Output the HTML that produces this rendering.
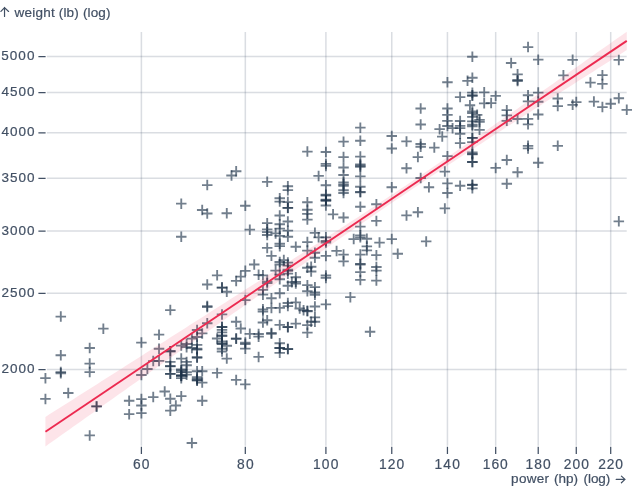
<!DOCTYPE html>
<html><head><meta charset="utf-8"><style>
html,body{margin:0;padding:0;background:#fff;overflow:hidden;}
svg{display:block;font-family:"Liberation Sans",sans-serif;will-change:transform;}
</style></head><body>
<svg width="640" height="503" viewBox="0 0 640 503">
<rect width="640" height="503" fill="#fff"/>
<path d="M141.40,32V445.7M245.31,32V445.7M325.91,32V445.7M391.76,32V445.7M447.44,32V445.7M495.68,32V445.7M538.22,32V445.7M576.27,32V445.7M610.70,32V445.7" stroke="#3a4d66" stroke-opacity="0.19" stroke-width="1.5" fill="none"/>
<path d="M46.9,369.50H626.7M46.9,293.28H626.7M46.9,231.01H626.7M46.9,178.36H626.7M46.9,132.75H626.7M46.9,92.53H626.7M46.9,56.54H626.7" stroke="#3a4d66" stroke-opacity="0.19" stroke-width="1.5" fill="none"/>
<path d="M141.40,446.7V454M245.31,446.7V454M325.91,446.7V454M391.76,446.7V454M447.44,446.7V454M495.68,446.7V454M538.22,446.7V454M576.27,446.7V454M610.70,446.7V454M38.4,369.50H45.6M38.4,293.28H45.6M38.4,231.01H45.6M38.4,178.36H45.6M38.4,132.75H45.6M38.4,92.53H45.6M38.4,56.54H45.6" stroke="#425064" stroke-width="1.25" fill="none"/>
<g fill="#425064" stroke="#425064" stroke-width="0.2"><text x="133.06" y="468.75" font-size="13.8" letter-spacing="1.150">60</text><text x="236.96" y="468.75" font-size="13.8" letter-spacing="1.249">80</text><text x="313.02" y="468.75" font-size="13.8" letter-spacing="1.180">100</text><text x="378.93" y="468.75" font-size="13.8" letter-spacing="1.071">120</text><text x="434.44" y="468.75" font-size="13.8" letter-spacing="1.262">140</text><text x="482.81" y="468.75" font-size="13.8" letter-spacing="0.978">160</text><text x="525.40" y="468.75" font-size="13.8" letter-spacing="1.161">180</text><text x="563.69" y="468.75" font-size="13.8" letter-spacing="1.071">200</text><text x="598.23" y="468.75" font-size="13.8" letter-spacing="0.792">220</text><text x="1.44" y="373.00" font-size="13.5" letter-spacing="0.993">2000</text><text x="1.44" y="296.78" font-size="13.5" letter-spacing="0.993">2500</text><text x="1.42" y="234.51" font-size="13.5" letter-spacing="0.997">3000</text><text x="1.42" y="181.86" font-size="13.5" letter-spacing="0.997">3500</text><text x="1.60" y="136.25" font-size="13.5" letter-spacing="0.939">4000</text><text x="1.60" y="96.03" font-size="13.5" letter-spacing="0.939">4500</text><text x="1.28" y="60.04" font-size="13.5" letter-spacing="1.046">5000</text><text x="14.38" y="17.10" font-size="13.5" letter-spacing="0.253">weight</text><text x="58.83" y="17.10" font-size="13.5" letter-spacing="0.143">(lb)</text><text x="82.94" y="17.10" font-size="13.5" letter-spacing="0.114">(log)</text><text x="511.09" y="483.30" font-size="13.5" letter-spacing="0.309">power</text><text x="553.94" y="483.30" font-size="13.5" letter-spacing="-0.012">(hp)</text><text x="583.53" y="483.30" font-size="13.5" letter-spacing="-0.056">(log)</text></g>
<path d="M4.53,16.5V7.4M0.95,11.45L4.53,7.6L8.59,11.45M616.2,479.4H625M621.4,476.1L625,479.4L621.4,482.8" stroke="#425064" stroke-width="1.2" fill="none" stroke-linecap="round" stroke-linejoin="round"/>
<g stroke="#1c3047" stroke-opacity="0.62" stroke-width="1.85" fill="none"><path d="M415.43,177.97h10.5M420.68,172.72v10.5"/><path d="M501.54,160.03h10.5M506.79,154.78v10.5"/><path d="M467.11,184.67h10.5M472.36,179.42v10.5"/><path d="M467.11,184.96h10.5M472.36,179.71v10.5"/><path d="M442.19,183.38h10.5M447.44,178.13v10.5"/><path d="M567.39,104.81h10.5M572.64,99.56v10.5"/><path d="M605.45,103.79h10.5M610.70,98.54v10.5"/><path d="M597.15,107.10h10.5M602.40,101.85v10.5"/><path d="M613.57,98.27h10.5M618.82,93.02v10.5"/><path d="M552.50,145.81h10.5M557.75,140.56v10.5"/><path d="M371.14,220.92h10.5M376.39,215.67v10.5"/><path d="M501.54,120.84h10.5M506.79,115.59v10.5"/><path d="M474.27,129.86h10.5M479.52,124.61v10.5"/><path d="M522.79,118.87h10.5M528.04,113.62v10.5"/><path d="M522.79,145.81h10.5M528.04,140.56v10.5"/><path d="M512.32,172.27h10.5M517.57,167.02v10.5"/><path d="M490.43,167.89h10.5M495.68,162.64v10.5"/><path d="M442.19,193.02h10.5M447.44,187.77v10.5"/><path d="M467.11,153.80h10.5M472.36,148.55v10.5"/><path d="M613.57,221.36h10.5M618.82,216.11v10.5"/><path d="M302.13,311.24h10.5M307.38,305.99v10.5"/><path d="M302.13,250.58h10.5M307.38,245.33v10.5"/><path d="M309.66,257.76h10.5M314.91,252.51v10.5"/><path d="M261.96,281.60h10.5M267.21,276.35v10.5"/><path d="M274.49,347.99h10.5M279.74,342.74v10.5"/><path d="M40.18,398.91h10.5M45.43,393.66v10.5"/><path d="M270.36,270.56h10.5M275.61,265.31v10.5"/><path d="M282.60,302.98h10.5M287.85,297.73v10.5"/><path d="M302.13,310.80h10.5M307.38,305.55v10.5"/><path d="M364.81,331.71h10.5M370.06,326.46v10.5"/><path d="M282.60,273.64h10.5M287.85,268.39v10.5"/><path d="M597.15,83.91h10.5M602.40,78.66v10.5"/><path d="M571.02,102.07h10.5M576.27,96.82v10.5"/><path d="M588.65,101.60h10.5M593.90,96.35v10.5"/><path d="M558.16,75.36h10.5M563.41,70.11v10.5"/><path d="M274.49,347.99h10.5M279.74,342.74v10.5"/><path d="M282.60,327.15h10.5M287.85,321.90v10.5"/><path d="M302.13,332.63h10.5M307.38,327.38v10.5"/><path d="M55.55,373.28h10.5M60.80,368.03v10.5"/><path d="M320.66,275.45h10.5M325.91,270.20v10.5"/><path d="M338.28,184.37h10.5M343.53,179.12v10.5"/><path d="M320.66,195.47h10.5M325.91,190.22v10.5"/><path d="M274.49,198.25h10.5M279.74,193.00v10.5"/><path d="M320.66,199.70h10.5M325.91,194.45v10.5"/><path d="M501.54,115.36h10.5M506.79,110.11v10.5"/><path d="M522.79,95.27h10.5M528.04,90.02v10.5"/><path d="M474.27,119.85h10.5M479.52,114.60v10.5"/><path d="M467.11,124.65h10.5M472.36,119.40v10.5"/><path d="M532.97,59.63h10.5M538.22,54.38v10.5"/><path d="M512.32,74.35h10.5M517.57,69.10v10.5"/><path d="M522.79,47.11h10.5M528.04,41.86v10.5"/><path d="M355.09,235.37h10.5M360.34,230.12v10.5"/><path d="M202.00,306.09h10.5M207.25,300.84v10.5"/><path d="M320.66,200.33h10.5M325.91,195.08v10.5"/><path d="M274.49,215.54h10.5M279.74,210.29v10.5"/><path d="M266.18,333.85h10.5M271.43,328.60v10.5"/><path d="M282.60,349.11h10.5M287.85,343.86v10.5"/><path d="M191.83,357.09h10.5M197.08,351.84v10.5"/><path d="M221.53,358.58h10.5M226.78,353.33v10.5"/><path d="M165.06,410.65h10.5M170.31,405.40v10.5"/><path d="M186.63,442.95h10.5M191.88,437.70v10.5"/><path d="M136.15,399.09h10.5M141.40,393.84v10.5"/><path d="M191.83,377.27h10.5M197.08,372.02v10.5"/><path d="M302.13,325.05h10.5M307.38,319.80v10.5"/><path d="M240.06,348.63h10.5M245.31,343.38v10.5"/><path d="M98.09,328.66h10.5M103.34,323.41v10.5"/><path d="M282.60,306.09h10.5M287.85,300.84v10.5"/><path d="M266.18,332.93h10.5M271.43,327.68v10.5"/><path d="M501.54,110.13h10.5M506.79,104.88v10.5"/><path d="M522.79,101.37h10.5M528.04,96.12v10.5"/><path d="M467.11,121.42h10.5M472.36,116.17v10.5"/><path d="M474.27,121.91h10.5M479.52,116.66v10.5"/><path d="M467.11,161.98h10.5M472.36,156.73v10.5"/><path d="M585.19,82.58h10.5M590.44,77.33v10.5"/><path d="M478.96,92.37h10.5M484.21,87.12v10.5"/><path d="M490.43,95.88h10.5M495.68,90.63v10.5"/><path d="M552.50,98.50h10.5M557.75,93.25v10.5"/><path d="M309.66,317.34h10.5M314.91,312.09v10.5"/><path d="M467.11,142.10h10.5M472.36,136.85v10.5"/><path d="M415.43,124.49h10.5M420.68,119.24v10.5"/><path d="M442.19,108.53h10.5M447.44,103.28v10.5"/><path d="M467.11,126.24h10.5M472.36,120.99v10.5"/><path d="M361.59,238.73h10.5M366.84,233.48v10.5"/><path d="M221.53,291.78h10.5M226.78,286.53v10.5"/><path d="M270.36,233.41h10.5M275.61,228.16v10.5"/><path d="M186.63,338.66h10.5M191.88,333.41v10.5"/><path d="M266.18,307.94h10.5M271.43,302.69v10.5"/><path d="M290.54,323.55h10.5M295.79,318.30v10.5"/><path d="M309.66,292.47h10.5M314.91,287.22v10.5"/><path d="M240.06,342.58h10.5M245.31,337.33v10.5"/><path d="M274.49,352.83h10.5M279.74,347.58v10.5"/><path d="M522.79,124.32h10.5M528.04,119.07v10.5"/><path d="M467.11,161.98h10.5M472.36,156.73v10.5"/><path d="M454.87,133.78h10.5M460.12,128.53v10.5"/><path d="M434.37,129.19h10.5M439.62,123.94v10.5"/><path d="M467.11,152.35h10.5M472.36,147.10v10.5"/><path d="M567.39,59.83h10.5M572.64,54.58v10.5"/><path d="M467.11,95.27h10.5M472.36,90.02v10.5"/><path d="M485.88,103.09h10.5M491.13,97.84v10.5"/><path d="M467.11,113.09h10.5M472.36,107.84v10.5"/><path d="M597.15,75.14h10.5M602.40,69.89v10.5"/><path d="M613.57,59.90h10.5M618.82,54.65v10.5"/><path d="M522.79,148.39h10.5M528.04,143.14v10.5"/><path d="M338.28,217.51h10.5M343.53,212.26v10.5"/><path d="M320.66,200.74h10.5M325.91,195.49v10.5"/><path d="M320.66,237.33h10.5M325.91,232.08v10.5"/><path d="M274.49,228.63h10.5M279.74,223.38v10.5"/><path d="M302.13,242.12h10.5M307.38,236.87v10.5"/><path d="M40.18,378.15h10.5M45.43,372.90v10.5"/><path d="M467.11,56.74h10.5M472.36,51.49v10.5"/><path d="M505.89,63.02h10.5M511.14,57.77v10.5"/><path d="M512.32,81.03h10.5M517.57,75.78v10.5"/><path d="M532.97,92.60h10.5M538.22,87.35v10.5"/><path d="M320.66,255.92h10.5M325.91,250.67v10.5"/><path d="M274.49,324.90h10.5M279.74,319.65v10.5"/><path d="M202.00,307.08h10.5M207.25,301.83v10.5"/><path d="M298.31,310.23h10.5M303.56,304.98v10.5"/><path d="M282.60,348.95h10.5M287.85,343.70v10.5"/><path d="M261.96,320.28h10.5M267.21,315.03v10.5"/><path d="M345.10,297.13h10.5M350.35,291.88v10.5"/><path d="M282.60,327.00h10.5M287.85,321.75v10.5"/><path d="M454.87,125.82h10.5M460.12,120.57v10.5"/><path d="M621.51,109.81h10.5M626.76,104.56v10.5"/><path d="M63.00,393.00h10.5M68.25,387.75v10.5"/><path d="M216.75,343.53h10.5M222.00,338.28v10.5"/><path d="M286.60,282.26h10.5M291.85,277.01v10.5"/><path d="M361.59,246.38h10.5M366.84,241.13v10.5"/><path d="M467.11,188.36h10.5M472.36,183.11v10.5"/><path d="M355.09,272.10h10.5M360.34,266.85v10.5"/><path d="M392.49,253.72h10.5M397.74,248.47v10.5"/><path d="M532.97,162.72h10.5M538.22,157.47v10.5"/><path d="M302.13,219.59h10.5M307.38,214.34v10.5"/><path d="M320.66,242.47h10.5M325.91,237.22v10.5"/><path d="M320.66,194.75h10.5M325.91,189.50v10.5"/><path d="M176.01,378.15h10.5M181.26,372.90v10.5"/><path d="M240.06,300.05h10.5M245.31,294.80v10.5"/><path d="M165.06,398.72h10.5M170.31,393.47v10.5"/><path d="M216.75,287.59h10.5M222.00,282.34v10.5"/><path d="M320.66,151.99h10.5M325.91,146.74v10.5"/><path d="M355.09,165.72h10.5M360.34,160.47v10.5"/><path d="M338.28,167.51h10.5M343.53,162.26v10.5"/><path d="M442.19,120.92h10.5M447.44,115.67v10.5"/><path d="M467.11,77.75h10.5M472.36,72.50v10.5"/><path d="M467.11,95.81h10.5M472.36,90.56v10.5"/><path d="M442.19,82.21h10.5M447.44,76.96v10.5"/><path d="M467.11,111.49h10.5M472.36,106.24v10.5"/><path d="M253.36,334.01h10.5M258.61,328.76v10.5"/><path d="M176.01,375.88h10.5M181.26,370.63v10.5"/><path d="M230.92,321.76h10.5M236.17,316.51v10.5"/><path d="M84.46,435.41h10.5M89.71,430.16v10.5"/><path d="M142.12,368.99h10.5M147.37,363.74v10.5"/><path d="M216.75,348.79h10.5M222.00,343.54v10.5"/><path d="M216.75,351.54h10.5M222.00,346.29v10.5"/><path d="M216.75,329.88h10.5M222.00,324.63v10.5"/><path d="M309.66,294.79h10.5M314.91,289.54v10.5"/><path d="M294.45,308.51h10.5M299.70,303.26v10.5"/><path d="M176.01,369.50h10.5M181.26,364.25v10.5"/><path d="M302.13,202.21h10.5M307.38,196.96v10.5"/><path d="M338.28,182.39h10.5M343.53,177.14v10.5"/><path d="M202.00,185.06h10.5M207.25,179.81v10.5"/><path d="M202.00,213.48h10.5M207.25,208.23v10.5"/><path d="M512.32,80.01h10.5M517.57,74.76v10.5"/><path d="M454.87,97.11h10.5M460.12,91.86v10.5"/><path d="M467.11,92.68h10.5M472.36,87.43v10.5"/><path d="M462.27,80.81h10.5M467.52,75.56v10.5"/><path d="M355.09,140.79h10.5M360.34,135.54v10.5"/><path d="M338.28,141.66h10.5M343.53,136.41v10.5"/><path d="M355.09,156.62h10.5M360.34,151.37v10.5"/><path d="M302.13,151.62h10.5M307.38,146.37v10.5"/><path d="M355.09,226.60h10.5M360.34,221.35v10.5"/><path d="M355.09,206.74h10.5M360.34,201.49v10.5"/><path d="M412.64,212.29h10.5M417.89,207.04v10.5"/><path d="M216.75,341.48h10.5M222.00,336.23v10.5"/><path d="M253.36,274.80h10.5M258.61,269.55v10.5"/><path d="M320.66,240.95h10.5M325.91,235.70v10.5"/><path d="M230.92,280.94h10.5M236.17,275.69v10.5"/><path d="M305.92,266.75h10.5M311.17,261.50v10.5"/><path d="M196.95,333.39h10.5M202.20,328.14v10.5"/><path d="M309.66,287.19h10.5M314.91,281.94v10.5"/><path d="M309.66,232.84h10.5M314.91,227.59v10.5"/><path d="M191.83,380.43h10.5M197.08,375.18v10.5"/><path d="M282.60,207.80h10.5M287.85,202.55v10.5"/><path d="M302.13,267.76h10.5M307.38,262.51v10.5"/><path d="M274.49,235.94h10.5M279.74,230.69v10.5"/><path d="M313.36,237.33h10.5M318.61,232.08v10.5"/><path d="M371.14,270.69h10.5M376.39,265.44v10.5"/><path d="M91.34,406.44h10.5M96.59,401.19v10.5"/><path d="M266.18,298.24h10.5M271.43,292.99v10.5"/><path d="M244.55,333.85h10.5M249.80,328.60v10.5"/><path d="M290.54,283.59h10.5M295.79,278.34v10.5"/><path d="M235.52,328.51h10.5M240.77,323.26v10.5"/><path d="M253.36,336.64h10.5M258.61,331.39v10.5"/><path d="M442.19,114.87h10.5M447.44,109.62v10.5"/><path d="M467.11,116.90h10.5M472.36,111.65v10.5"/><path d="M386.51,136.01h10.5M391.76,130.76v10.5"/><path d="M471.90,114.87h10.5M477.15,109.62v10.5"/><path d="M320.66,205.47h10.5M325.91,200.22v10.5"/><path d="M338.28,193.02h10.5M343.53,187.77v10.5"/><path d="M244.55,229.65h10.5M249.80,224.40v10.5"/><path d="M282.60,221.47h10.5M287.85,216.22v10.5"/><path d="M84.46,363.57h10.5M89.71,358.32v10.5"/><path d="M136.15,342.58h10.5M141.40,337.33v10.5"/><path d="M191.83,380.43h10.5M197.08,375.18v10.5"/><path d="M91.34,406.44h10.5M96.59,401.19v10.5"/><path d="M320.66,163.94h10.5M325.91,158.69v10.5"/><path d="M230.92,171.22h10.5M236.17,165.97v10.5"/><path d="M355.09,164.50h10.5M360.34,159.25v10.5"/><path d="M302.13,209.72h10.5M307.38,204.47v10.5"/><path d="M196.95,400.77h10.5M202.20,395.52v10.5"/><path d="M191.83,371.21h10.5M197.08,365.96v10.5"/><path d="M216.75,344.00h10.5M222.00,338.75v10.5"/><path d="M202.00,284.52h10.5M207.25,279.27v10.5"/><path d="M327.81,214.35h10.5M333.06,209.10v10.5"/><path d="M467.11,137.92h10.5M472.36,132.67v10.5"/><path d="M274.49,201.58h10.5M279.74,196.33v10.5"/><path d="M348.46,239.08h10.5M353.71,233.83v10.5"/><path d="M386.51,148.48h10.5M391.76,143.23v10.5"/><path d="M532.97,101.76h10.5M538.22,96.51v10.5"/><path d="M454.87,128.09h10.5M460.12,122.84v10.5"/><path d="M415.43,144.04h10.5M420.68,138.79v10.5"/><path d="M467.11,154.34h10.5M472.36,149.09v10.5"/><path d="M181.36,361.90h10.5M186.61,356.65v10.5"/><path d="M240.06,344.00h10.5M245.31,338.75v10.5"/><path d="M123.90,400.77h10.5M129.15,395.52v10.5"/><path d="M305.92,321.76h10.5M311.17,316.51v10.5"/><path d="M191.83,379.02h10.5M197.08,373.77v10.5"/><path d="M454.87,143.16h10.5M460.12,137.91v10.5"/><path d="M355.09,127.67h10.5M360.34,122.42v10.5"/><path d="M454.87,121.00h10.5M460.12,115.75v10.5"/><path d="M415.43,108.45h10.5M420.68,103.20v10.5"/><path d="M355.09,176.42h10.5M360.34,171.17v10.5"/><path d="M338.28,185.76h10.5M343.53,180.51v10.5"/><path d="M320.66,165.91h10.5M325.91,160.66v10.5"/><path d="M313.36,175.93h10.5M318.61,170.68v10.5"/><path d="M532.97,114.47h10.5M538.22,109.22v10.5"/><path d="M512.32,118.95h10.5M517.57,113.70v10.5"/><path d="M552.50,106.07h10.5M557.75,100.82v10.5"/><path d="M464.70,105.28h10.5M469.95,100.03v10.5"/><path d="M230.92,379.90h10.5M236.17,374.65v10.5"/><path d="M274.49,261.98h10.5M279.74,256.73v10.5"/><path d="M216.75,327.00h10.5M222.00,321.75v10.5"/><path d="M278.57,260.11h10.5M283.82,254.86v10.5"/><path d="M153.77,360.90h10.5M159.02,355.65v10.5"/><path d="M253.36,356.93h10.5M258.61,351.68v10.5"/><path d="M176.01,372.07h10.5M181.26,366.82v10.5"/><path d="M230.92,338.50h10.5M236.17,333.25v10.5"/><path d="M309.66,252.75h10.5M314.91,247.50v10.5"/><path d="M355.09,279.89h10.5M360.34,274.64v10.5"/><path d="M355.09,264.48h10.5M360.34,259.23v10.5"/><path d="M55.55,372.07h10.5M60.80,366.82v10.5"/><path d="M170.58,405.48h10.5M175.83,400.23v10.5"/><path d="M84.46,372.07h10.5M89.71,366.82v10.5"/><path d="M191.83,357.75h10.5M197.08,352.50v10.5"/><path d="M136.15,405.48h10.5M141.40,400.23v10.5"/><path d="M355.09,191.80h10.5M360.34,186.55v10.5"/><path d="M442.19,156.17h10.5M447.44,150.92v10.5"/><path d="M439.60,171.60h10.5M444.85,166.35v10.5"/><path d="M338.28,174.96h10.5M343.53,169.71v10.5"/><path d="M302.13,213.81h10.5M307.38,208.56v10.5"/><path d="M261.96,235.02h10.5M267.21,229.77v10.5"/><path d="M274.49,264.48h10.5M279.74,259.23v10.5"/><path d="M320.66,185.26h10.5M325.91,180.01v10.5"/><path d="M282.60,207.90h10.5M287.85,202.65v10.5"/><path d="M338.28,190.28h10.5M343.53,185.03v10.5"/><path d="M261.96,223.13h10.5M267.21,217.88v10.5"/><path d="M355.09,166.85h10.5M360.34,161.60v10.5"/><path d="M386.51,187.26h10.5M391.76,182.01v10.5"/><path d="M454.87,185.76h10.5M460.12,180.51v10.5"/><path d="M501.54,183.77h10.5M506.79,178.52v10.5"/><path d="M439.60,208.44h10.5M444.85,203.19v10.5"/><path d="M442.19,125.99h10.5M447.44,120.74v10.5"/><path d="M181.36,344.00h10.5M186.61,338.75v10.5"/><path d="M302.13,285.18h10.5M307.38,279.93v10.5"/><path d="M309.66,321.76h10.5M314.91,316.51v10.5"/><path d="M216.75,332.32h10.5M222.00,327.07v10.5"/><path d="M302.13,291.24h10.5M307.38,285.99v10.5"/><path d="M338.28,261.35h10.5M343.53,256.10v10.5"/><path d="M261.96,247.93h10.5M267.21,242.68v10.5"/><path d="M309.66,306.52h10.5M314.91,301.27v10.5"/><path d="M331.34,250.94h10.5M336.59,245.69v10.5"/><path d="M401.26,215.43h10.5M406.51,210.18v10.5"/><path d="M371.14,255.19h10.5M376.39,249.94v10.5"/><path d="M423.67,187.26h10.5M428.92,182.01v10.5"/><path d="M196.95,371.21h10.5M202.20,365.96v10.5"/><path d="M181.36,347.19h10.5M186.61,341.94v10.5"/><path d="M371.14,204.20h10.5M376.39,198.95v10.5"/><path d="M261.96,232.15h10.5M267.21,226.90v10.5"/><path d="M274.49,243.77h10.5M279.74,238.52v10.5"/><path d="M282.60,202.10h10.5M287.85,196.85v10.5"/><path d="M355.09,192.31h10.5M360.34,187.06v10.5"/><path d="M415.43,146.70h10.5M420.68,141.45v10.5"/><path d="M412.64,157.08h10.5M417.89,151.83v10.5"/><path d="M437.00,136.62h10.5M442.25,131.37v10.5"/><path d="M429.06,147.59h10.5M434.31,142.34v10.5"/><path d="M478.96,103.32h10.5M484.21,98.07v10.5"/><path d="M447.32,128.17h10.5M452.57,122.92v10.5"/><path d="M401.26,168.27h10.5M406.51,163.02v10.5"/><path d="M467.11,137.92h10.5M472.36,132.67v10.5"/><path d="M196.95,382.55h10.5M202.20,377.30v10.5"/><path d="M165.06,373.80h10.5M170.31,368.55v10.5"/><path d="M240.06,384.33h10.5M245.31,379.08v10.5"/><path d="M240.06,270.81h10.5M245.31,265.56v10.5"/><path d="M226.26,175.45h10.5M231.51,170.20v10.5"/><path d="M401.26,141.40h10.5M406.51,136.15v10.5"/><path d="M196.95,210.04h10.5M202.20,204.79v10.5"/><path d="M282.60,186.26h10.5M287.85,181.01v10.5"/><path d="M191.83,336.95h10.5M197.08,331.70v10.5"/><path d="M191.83,344.80h10.5M197.08,339.55v10.5"/><path d="M165.06,366.10h10.5M170.31,360.85v10.5"/><path d="M186.63,347.99h10.5M191.88,342.74v10.5"/><path d="M282.60,270.81h10.5M287.85,265.56v10.5"/><path d="M371.14,280.55h10.5M376.39,275.30v10.5"/><path d="M371.14,267.00h10.5M376.39,261.75v10.5"/><path d="M282.60,285.72h10.5M287.85,280.47v10.5"/><path d="M221.53,345.75h10.5M226.78,340.50v10.5"/><path d="M136.15,375.01h10.5M141.40,369.76v10.5"/><path d="M191.83,349.60h10.5M197.08,344.35v10.5"/><path d="M165.06,366.27h10.5M170.31,361.02v10.5"/><path d="M282.60,269.79h10.5M287.85,264.54v10.5"/><path d="M274.49,246.14h10.5M279.74,240.89v10.5"/><path d="M282.60,230.67h10.5M287.85,225.42v10.5"/><path d="M282.60,190.18h10.5M287.85,184.93v10.5"/><path d="M230.92,338.81h10.5M236.17,333.56v10.5"/><path d="M282.60,265.61h10.5M287.85,260.36v10.5"/><path d="M216.75,287.59h10.5M222.00,282.34v10.5"/><path d="M290.54,302.42h10.5M295.79,297.17v10.5"/><path d="M216.75,327.00h10.5M222.00,321.75v10.5"/><path d="M165.06,351.21h10.5M170.31,345.96v10.5"/><path d="M338.28,254.58h10.5M343.53,249.33v10.5"/><path d="M165.06,351.21h10.5M170.31,345.96v10.5"/><path d="M55.55,355.28h10.5M60.80,350.03v10.5"/><path d="M55.55,316.61h10.5M60.80,311.36v10.5"/><path d="M176.01,236.75h10.5M181.26,231.50v10.5"/><path d="M176.01,203.67h10.5M181.26,198.42v10.5"/><path d="M176.01,396.13h10.5M181.26,390.88v10.5"/><path d="M176.01,345.59h10.5M181.26,340.34v10.5"/><path d="M147.99,397.05h10.5M153.24,391.80v10.5"/><path d="M420.94,241.42h10.5M426.19,236.17v10.5"/><path d="M320.66,304.39h10.5M325.91,299.14v10.5"/><path d="M274.49,293.28h10.5M279.74,288.03v10.5"/><path d="M202.00,323.25h10.5M207.25,318.00v10.5"/><path d="M257.68,294.65h10.5M262.93,289.40v10.5"/><path d="M257.68,275.32h10.5M262.93,270.07v10.5"/><path d="M290.54,277.27h10.5M295.79,272.02v10.5"/><path d="M355.09,263.85h10.5M360.34,258.60v10.5"/><path d="M257.68,309.37h10.5M262.93,304.12v10.5"/><path d="M123.90,414.13h10.5M129.15,408.88v10.5"/><path d="M159.46,391.54h10.5M164.71,386.29v10.5"/><path d="M136.15,413.16h10.5M141.40,407.91v10.5"/><path d="M176.01,358.58h10.5M181.26,353.33v10.5"/><path d="M165.06,373.80h10.5M170.31,368.55v10.5"/><path d="M147.99,361.07h10.5M153.24,355.82v10.5"/><path d="M181.36,372.07h10.5M186.61,366.82v10.5"/><path d="M153.77,334.63h10.5M159.02,329.38v10.5"/><path d="M165.06,361.90h10.5M170.31,356.65v10.5"/><path d="M165.06,310.09h10.5M170.31,304.84v10.5"/><path d="M211.90,338.50h10.5M217.15,333.25v10.5"/><path d="M216.75,335.40h10.5M222.00,330.15v10.5"/><path d="M216.75,314.42h10.5M222.00,309.17v10.5"/><path d="M320.66,277.92h10.5M325.91,272.67v10.5"/><path d="M211.90,275.32h10.5M217.15,270.07v10.5"/><path d="M240.06,205.78h10.5M245.31,200.53v10.5"/><path d="M355.09,254.58h10.5M360.34,249.33v10.5"/><path d="M221.53,213.27h10.5M226.78,208.02v10.5"/><path d="M374.27,242.59h10.5M379.52,237.34v10.5"/><path d="M386.51,239.08h10.5M391.76,233.83v10.5"/><path d="M355.09,186.76h10.5M360.34,181.51v10.5"/><path d="M338.28,157.08h10.5M343.53,151.83v10.5"/><path d="M274.49,224.25h10.5M279.74,219.00v10.5"/><path d="M261.96,181.80h10.5M267.21,176.55v10.5"/><path d="M274.49,279.23h10.5M279.74,273.98v10.5"/><path d="M274.49,274.67h10.5M279.74,269.42v10.5"/><path d="M274.49,307.94h10.5M279.74,302.69v10.5"/><path d="M261.96,283.19h10.5M267.21,277.94v10.5"/><path d="M257.68,289.89h10.5M262.93,284.64v10.5"/><path d="M282.60,262.60h10.5M287.85,257.35v10.5"/><path d="M290.54,246.74h10.5M295.79,241.49v10.5"/><path d="M211.90,372.93h10.5M217.15,367.68v10.5"/><path d="M181.36,365.26h10.5M186.61,360.01v10.5"/><path d="M181.36,374.66h10.5M186.61,369.41v10.5"/><path d="M153.77,348.79h10.5M159.02,343.54v10.5"/><path d="M191.83,348.79h10.5M197.08,343.54v10.5"/><path d="M274.49,343.21h10.5M279.74,337.96v10.5"/><path d="M216.75,336.17h10.5M222.00,330.92v10.5"/><path d="M191.83,330.03h10.5M197.08,324.78v10.5"/><path d="M176.01,375.53h10.5M181.26,370.28v10.5"/><path d="M176.01,375.53h10.5M181.26,370.28v10.5"/><path d="M176.01,370.35h10.5M181.26,365.10v10.5"/><path d="M355.09,237.33h10.5M360.34,232.08v10.5"/><path d="M261.96,229.31h10.5M267.21,224.06v10.5"/><path d="M290.54,281.86h10.5M295.79,276.61v10.5"/><path d="M361.59,250.33h10.5M366.84,245.08v10.5"/><path d="M305.92,271.45h10.5M311.17,266.20v10.5"/><path d="M257.68,311.52h10.5M262.93,306.27v10.5"/><path d="M282.60,236.75h10.5M287.85,231.50v10.5"/><path d="M266.18,255.80h10.5M271.43,250.55v10.5"/><path d="M84.46,347.99h10.5M89.71,342.74v10.5"/><path d="M257.68,322.51h10.5M262.93,317.26v10.5"/><path d="M235.52,276.62h10.5M240.77,271.37v10.5"/><path d="M248.98,264.48h10.5M254.23,259.23v10.5"/></g>
<path d="M45.43,446.42L49.43,443.59L53.43,440.75L57.43,437.91L61.43,435.07L65.43,432.24L69.43,429.40L73.43,426.56L77.43,423.72L81.43,420.89L85.43,418.05L89.43,415.21L93.43,412.38L97.43,409.54L101.43,406.71L105.43,403.87L109.43,401.04L113.43,398.20L117.43,395.37L121.43,392.53L125.43,389.70L129.43,386.86L133.43,384.03L137.43,381.19L141.43,378.36L145.43,375.53L149.43,372.69L153.43,369.86L157.43,367.03L161.43,364.20L165.43,361.36L169.43,358.53L173.43,355.70L177.43,352.87L181.43,350.04L185.43,347.21L189.43,344.38L193.43,341.55L197.43,338.72L201.43,335.89L205.43,333.07L209.43,330.24L213.43,327.41L217.43,324.59L221.43,321.76L225.43,318.94L229.43,316.11L233.43,313.29L237.43,310.47L241.43,307.65L245.43,304.83L249.43,302.01L253.43,299.19L257.43,296.37L261.43,293.55L265.43,290.74L269.43,287.92L273.43,285.11L277.43,282.30L281.43,279.49L285.43,276.68L289.43,273.87L293.43,271.06L297.43,268.26L301.43,265.46L305.43,262.65L309.43,259.86L313.43,257.06L317.43,254.26L321.43,251.47L325.43,248.68L329.43,245.90L333.43,243.11L337.43,240.33L341.43,237.55L345.43,234.78L349.43,232.01L353.43,229.24L357.43,226.48L361.43,223.72L365.43,220.97L369.43,218.22L373.43,215.47L377.43,212.73L381.43,210.00L385.43,207.27L389.43,204.54L393.43,201.82L397.43,199.11L401.43,196.40L405.43,193.70L409.43,191.00L413.43,188.31L417.43,185.63L421.43,182.95L425.43,180.28L429.43,177.61L433.43,174.95L437.43,172.30L441.43,169.65L445.43,167.01L449.43,164.37L453.43,161.73L457.43,159.10L461.43,156.48L465.43,153.86L469.43,151.24L473.43,148.63L477.43,146.02L481.43,143.42L485.43,140.82L489.43,138.22L493.43,135.62L497.43,133.03L501.43,130.44L505.43,127.86L509.43,125.27L513.43,122.69L517.43,120.11L521.43,117.53L525.43,114.96L529.43,112.38L533.43,109.81L537.43,107.24L541.43,104.67L545.43,102.11L549.43,99.54L553.43,96.98L557.43,94.41L561.43,91.85L565.43,89.29L569.43,86.73L573.43,84.17L577.43,81.61L581.43,79.05L585.43,76.50L589.43,73.94L593.43,71.39L597.43,68.83L601.43,66.28L605.43,63.73L609.43,61.17L613.43,58.62L617.43,56.07L621.43,53.52L626.76,50.12L626.76,31.64L621.43,35.41L617.43,38.24L613.43,41.07L609.43,43.89L605.43,46.72L601.43,49.54L597.43,52.37L593.43,55.19L589.43,58.01L585.43,60.84L581.43,63.66L577.43,66.48L573.43,69.30L569.43,72.12L565.43,74.93L561.43,77.75L557.43,80.57L553.43,83.38L549.43,86.19L545.43,89.01L541.43,91.82L537.43,94.63L533.43,97.43L529.43,100.24L525.43,103.04L521.43,105.84L517.43,108.64L513.43,111.44L509.43,114.24L505.43,117.03L501.43,119.82L497.43,122.61L493.43,125.40L489.43,128.18L485.43,130.96L481.43,133.74L477.43,136.51L473.43,139.28L469.43,142.05L465.43,144.81L461.43,147.57L457.43,150.32L453.43,153.07L449.43,155.81L445.43,158.55L441.43,161.28L437.43,164.01L433.43,166.74L429.43,169.45L425.43,172.16L421.43,174.87L417.43,177.57L413.43,180.26L409.43,182.95L405.43,185.63L401.43,188.31L397.43,190.98L393.43,193.65L389.43,196.30L385.43,198.96L381.43,201.60L377.43,204.25L373.43,206.88L369.43,209.52L365.43,212.15L361.43,214.77L357.43,217.39L353.43,220.00L349.43,222.61L345.43,225.22L341.43,227.82L337.43,230.42L333.43,233.02L329.43,235.62L325.43,238.21L321.43,240.79L317.43,243.38L313.43,245.96L309.43,248.55L305.43,251.12L301.43,253.70L297.43,256.28L293.43,258.85L289.43,261.42L285.43,263.99L281.43,266.56L277.43,269.13L273.43,271.69L269.43,274.26L265.43,276.82L261.43,279.38L257.43,281.94L253.43,284.50L249.43,287.06L245.43,289.62L241.43,292.18L237.43,294.73L233.43,297.29L229.43,299.84L225.43,302.40L221.43,304.95L217.43,307.50L213.43,310.05L209.43,312.60L205.43,315.16L201.43,317.71L197.43,320.26L193.43,322.80L189.43,325.35L185.43,327.90L181.43,330.45L177.43,333.00L173.43,335.54L169.43,338.09L165.43,340.64L161.43,343.18L157.43,345.73L153.43,348.27L149.43,350.82L145.43,353.36L141.43,355.91L137.43,358.45L133.43,361.00L129.43,363.54L125.43,366.08L121.43,368.63L117.43,371.17L113.43,373.71L109.43,376.25L105.43,378.80L101.43,381.34L97.43,383.88L93.43,386.42L89.43,388.96L85.43,391.51L81.43,394.05L77.43,396.59L73.43,399.13L69.43,401.67L65.43,404.21L61.43,406.75L57.43,409.29L53.43,411.83L49.43,414.37L45.43,416.91Z" fill="#ec2a50" fill-opacity="0.125"/>
<path d="M45.43,431.67L626.76,40.88" stroke="#ec2a50" stroke-width="1.9" fill="none"/>
</svg>
</body></html>
